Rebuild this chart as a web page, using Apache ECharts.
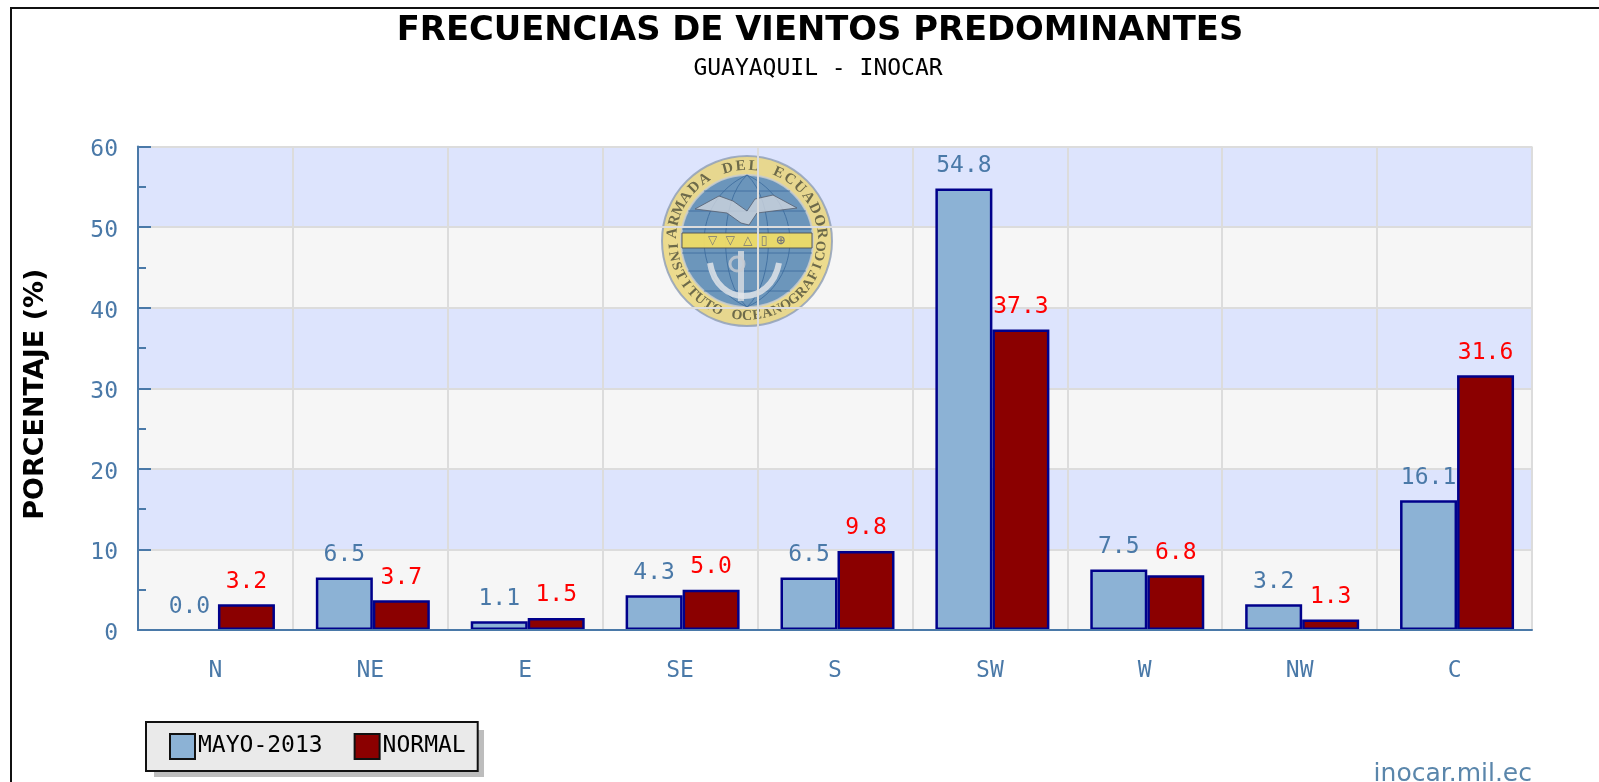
<!DOCTYPE html>
<html>
<head>
<meta charset="utf-8">
<title>Frecuencias de vientos predominantes</title>
<script src="https://cdn.jsdelivr.net/npm/echarts@6/dist/echarts.min.js"></script>
<style>
  html, body { margin: 0; padding: 0; background: #fff; }
  #chart { width: 1599px; height: 782px; }
</style>
</head>
<body>
<div id="chart"></div>
<script>
const categories = ["N", "NE", "E", "SE", "S", "SW", "W", "NW", "C"];
const mayoValues = [0.0, 6.5, 1.1, 4.3, 6.5, 54.8, 7.5, 3.2, 16.1];
const normalValues = [3.2, 3.7, 1.5, 5.0, 9.8, 37.3, 6.8, 1.3, 31.6];
const seriesNames = ["MAYO-2013", "NORMAL"];

const mono = "'DejaVu Sans Mono', monospace";
const sans = "'DejaVu Sans', sans-serif";
const axisBlue = "#4a79a8";

// sello de fondo (solo decoracion)
function sealElements(cx, cy) {
  let els = [];
  let op = 0.82;
  const z = 1;
  els.push({ type: "circle", z: z, shape: { cx: cx, cy: cy, r: 85 }, style: { fill: "#e9d476", stroke: "#8f9fb8", lineWidth: 2, opacity: op } });
  els.push({ type: "circle", z: z, shape: { cx: cx, cy: cy, r: 66 }, style: { fill: "#4f86c4", stroke: "#c9cdd0", lineWidth: 2, opacity: op } });
  // meridianos y paralelos
  [-50, -30, -12, 12, 30, 50].forEach(function (d) {
    let half = Math.sqrt(66 * 66 - d * d);
    els.push({ type: "line", z: z, shape: { x1: cx - half, y1: cy + d, x2: cx + half, y2: cy + d }, style: { stroke: "#3a6a9c", lineWidth: 1, opacity: op } });
  });
  [-44, -22, 22, 44].forEach(function (d) {
    els.push({ type: "bezierCurve", z: z, shape: { x1: cx, y1: cy - 66, x2: cx, y2: cy + 66, cpx1: cx + d * 1.3, cpy1: cy - 40, cpx2: cx + d * 1.3, cpy2: cy + 40 }, style: { stroke: "#3a6a9c", lineWidth: 1, fill: null, opacity: op } });
  });
  // banda con simbolos
  els.push({ type: "rect", z: z, shape: { x: cx - 65, y: cy - 8, width: 130, height: 15 }, style: { fill: "#f0dc66", stroke: "#555", lineWidth: 1, opacity: 0.95 } });
  els.push({ type: "text", z: z, x: cx, y: cy, style: { text: "▽  ▽  △  ▯  ⊕", font: "bold 12px 'DejaVu Sans'", fill: "#777", align: "center", verticalAlign: "middle" } });
  // alas
  els.push({ type: "polygon", z: z, shape: { points: [[cx - 52, cy - 32], [cx - 28, cy - 45], [cx - 14, cy - 40], [cx, cy - 30], [cx + 8, cy - 42], [cx + 26, cy - 46], [cx + 50, cy - 33], [cx + 10, cy - 28], [cx + 2, cy - 16], [cx - 6, cy - 18], [cx - 20, cy - 28]] }, style: { fill: "#ccd3dd", stroke: "#555f70", lineWidth: 1, opacity: op } });
  // ancla
  els.push({ type: "line", z: z, shape: { x1: cx - 6, y1: cy + 10, x2: cx - 6, y2: cy + 60 }, style: { stroke: "#d9dde2", lineWidth: 6, opacity: op } });
  els.push({ type: "circle", z: z, shape: { cx: cx - 10, cy: cy + 23, r: 7 }, style: { fill: null, stroke: "#c8ccd2", lineWidth: 3, opacity: op } });
  els.push({ type: "bezierCurve", z: z, shape: { x1: cx - 37, y1: cy + 22, x2: cx + 32, y2: cy + 22, cpx1: cx - 30, cpy1: cy + 66, cpx2: cx + 24, cpy2: cy + 66 }, style: { stroke: "#e4e7ea", lineWidth: 6, fill: null, opacity: op } });
  // letras del anillo
  const top = "ARMADA DEL ECUADOR";
  const bottom = "INSTITUTO OCEANOGRAFICO";
  const rText = 75;
  for (let i = 0; i < top.length; i++) {
    let a = (-84 + i * (168 / (top.length - 1))) * Math.PI / 180;
    els.push({ type: "text", z: z, x: cx + rText * Math.sin(a), y: cy - rText * Math.cos(a), rotation: -a, style: { text: top[i], font: "bold 15px 'Liberation Serif'", fill: "#6d6a4a", align: "center", verticalAlign: "middle" } });
  }
  for (let i = 0; i < bottom.length; i++) {
    let a = (-86 + i * (172 / (bottom.length - 1))) * Math.PI / 180;
    els.push({ type: "text", z: z, x: cx + rText * Math.sin(a), y: cy + rText * Math.cos(a), rotation: a, style: { text: bottom[i], font: "bold 14px 'Liberation Serif'", fill: "#6d6a4a", align: "center", verticalAlign: "middle" } });
  }
  return els;
}

function barSeries(name, values, color, labelColor, z) {
  return {
    name: name,
    type: "bar",
    z: z,
    xAxisIndex: 2,
    yAxisIndex: 2,
    barWidth: 57,
    barGap: 0,
    // un valor 0 no debe dibujar la linea del borde
    data: values.map(function (v) {
      return v === 0 ? { value: v, itemStyle: { borderWidth: 0 } } : v;
    }),
    itemStyle: { color: color, borderColor: "#00008b", borderWidth: 2.5 },
    label: {
      show: true,
      position: "top",
      distance: 11,
      color: labelColor,
      fontFamily: mono,
      fontSize: 23,
      formatter: function (p) { return p.value.toFixed(1); }
    }
  };
}

// la barra NORMAL va encima: tapa parte de la etiqueta 16.1
let mayoSeries = barSeries(seriesNames[0], mayoValues, "#8cb2d5", axisBlue, 3);
let normalSeries = barSeries(seriesNames[1], normalValues, "#8b0000", "#ff0000", 4);

let myChart = echarts.init(document.getElementById("chart"));
myChart.setOption({
  animation: false,
  backgroundColor: "#fff",
  title: [
    { text: "FRECUENCIAS DE VIENTOS PREDOMINANTES", left: 815, top: 9, textAlign: "center", textStyle: { fontFamily: sans, fontWeight: "bold", fontSize: 33.8, color: "#000" } },
    { text: "GUAYAQUIL - INOCAR", left: 813, top: 53, textAlign: "center", textStyle: { fontFamily: mono, fontWeight: "normal", fontSize: 23, color: "#000" } },
    { text: "inocar.mil.ec", left: 1527, top: 757, textAlign: "right", textStyle: { fontFamily: sans, fontWeight: "normal", fontSize: 25, color: "#5a86ab" } }
  ],
  legend: {
    left: 146,
    top: 722,
    orient: "horizontal",
    padding: [11, 12, 11, 23],
    itemGap: 31,
    itemWidth: 25,
    itemHeight: 25,
    backgroundColor: "#eaeaea",
    borderColor: "#111",
    borderWidth: 2,
    data: seriesNames.map(function (n) { return { name: n, icon: "rect", itemStyle: { borderColor: "#111", borderWidth: 2 } }; }),
    textStyle: { fontFamily: mono, fontSize: 23, color: "#000", padding: [0, 0, 0, -2] }
  },
  // el segundo grid solo desplaza las barras unos px, como en el original
  grid: [
    { left: 138, right: 67, top: 146.5, bottom: 152 },
    { left: 140.5, right: 64.5, top: 146.5, bottom: 152 }
  ],
  xAxis: [
    {
      type: "category",
      data: categories,
      z: 5,
      axisLine: { lineStyle: { color: axisBlue, width: 2 } },
      axisTick: { inside: true, length: 13, lineStyle: { color: axisBlue, width: 2 } },
      axisLabel: { color: axisBlue, fontFamily: mono, fontSize: 23, margin: 30 },
      splitLine: { show: false }
    },
    {
      type: "category",
      data: categories,
      position: "bottom",
      z: 2,
      axisLine: { show: false },
      axisTick: { show: false },
      axisLabel: { show: false },
      splitLine: { show: true, lineStyle: { color: "#dcdcdc", width: 2 } }
    },
    { type: "category", gridIndex: 1, data: categories, show: false }
  ],
  yAxis: [
    {
      // solo las bandas de fondo
      type: "value",
      min: 0,
      max: 60,
      interval: 10,
      z: 0,
      axisLine: { show: false },
      axisTick: { show: false },
      axisLabel: { show: false },
      splitLine: { show: false },
      splitArea: { show: true, areaStyle: { color: ["#f6f6f6", "#dde4fd"] } }
    },
    {
      type: "value",
      position: "left",
      min: 0,
      max: 60,
      interval: 10,
      z: 2,
      name: "PORCENTAJE (%)",
      nameLocation: "middle",
      nameGap: 89,
      nameTextStyle: { fontFamily: sans, fontWeight: "bold", fontSize: 27, color: "#000", padding: [0, 12, 0, 0] },
      axisLine: { show: true, lineStyle: { color: axisBlue, width: 2 } },
      axisTick: { show: true, inside: true, length: 13, lineStyle: { color: axisBlue, width: 2 } },
      minorTick: { show: true, splitNumber: 2, length: 8, lineStyle: { color: axisBlue, width: 2 } },
      axisLabel: {
        margin: 20,
        formatter: "{t|{value}}",
        rich: { t: { color: axisBlue, fontFamily: mono, fontSize: 23, padding: [8, 0, 0, 0] } }
      },
      splitLine: { show: true, lineStyle: { color: "#dcdcdc", width: 2 } }
    },
    { type: "value", gridIndex: 1, min: 0, max: 60, interval: 10, show: false, splitLine: { show: false } }
  ],
  series: [mayoSeries, normalSeries],
  graphic: {
    elements: [
      { type: "rect", z: 0, silent: true, shape: { x: 11, y: 8, width: 1700, height: 900 }, style: { fill: null, stroke: "#111", lineWidth: 2 } },
      // sombra de la leyenda
      { type: "rect", z: 1, silent: true, shape: { x: 154, y: 730, width: 330, height: 47 }, style: { fill: "#bdbdbd" } }
    ].concat(sealElements(747, 241))
  }
});
</script>
</body>
</html>
